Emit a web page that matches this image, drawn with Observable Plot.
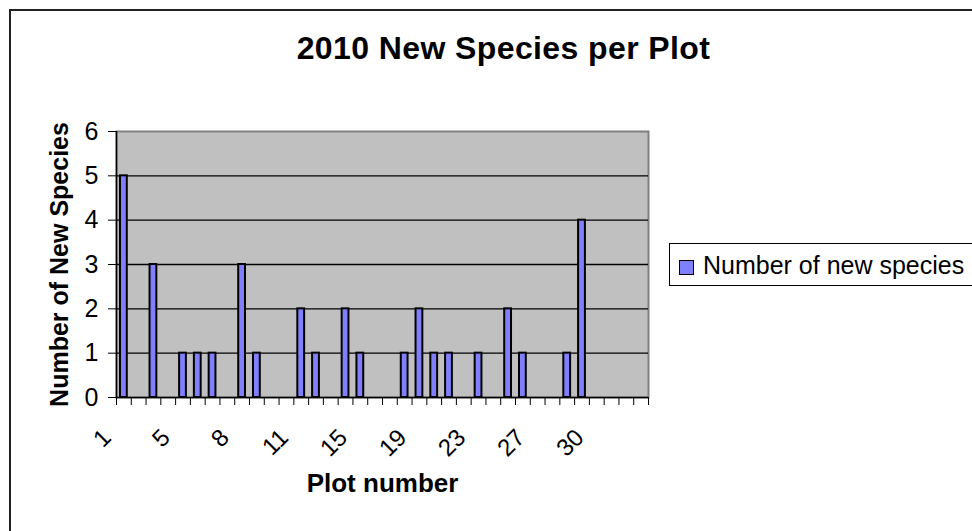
<!DOCTYPE html>
<html>
<head>
<meta charset="utf-8">
<script src="https://cdn.jsdelivr.net/npm/d3@7"></script>
<script src="https://cdn.jsdelivr.net/npm/@observablehq/plot@0.6"></script>
<style>
  html, body { margin: 0; padding: 0; background: white; }
  #wrap { position: relative; width: 972px; height: 531px; overflow: hidden; font-family: "Liberation Sans", Arial, sans-serif; }
  #chart { position: absolute; left: 0; top: 0; }
  #outer { position: absolute; left: 9px; top: 9px; width: 1100px; height: 700px; border: 2px solid #222; pointer-events: none; }
  #title { position: absolute; left: 0; width: 1007px; top: 32px; text-align: center; font-weight: bold; font-size: 32px; line-height: 32px; letter-spacing: 0.4px; color: #000; }
  #legend { position: absolute; left: 669px; top: 243px; width: 400px; height: 41px; border: 1px solid #000; background: white; }
  #legend .sw { position: absolute; left: 9px; top: 16px; width: 13px; height: 13px; background: #8080ff; border: 1px solid #000; }
  #legend .lab { position: absolute; left: 33px; top: 7px; font-size: 25px; line-height: 28px; color: #000; white-space: nowrap; }
</style>
</head>
<body>
<div id="wrap">
  <div id="chart"></div>
  <div id="outer"></div>
  <div id="title"></div>
  <div id="legend"><div class="sw"></div><div class="lab"></div></div>
</div>
<script>
// Category labels (plot identifiers), in chart order
const plotLabels = ["1","2","3","4","5","6","7","7a","8","9","10","10a","11","12","13","14",
  "15","16","17","18","19","20","21","22","23","24","25","26","27","28","29","29a","30","","",""];
// Number of new species per category (null = no value)
const newSpecies = [5,0,3,0,1,1,1,0,3,1,0,0,2,1,0,2,1,0,0,1,2,1,1,0,1,0,2,1,0,0,1,4,0,null,null,null];
const yTicks = [0,1,2,3,4,5,6];
const labelEvery = 4;
const titleText = "2010 New Species per Plot";
const xTitle = "Plot number";
const yTitle = "Number of New Species";
const seriesName = "Number of new species";

const data = plotLabels.map((label, i) => ({i, label, count: newSpecies[i]}));
const n = plotLabels.length;

const chart = Plot.plot({
  width: 972,
  height: 531,
  marginLeft: 116,
  marginRight: 324,
  marginTop: 131,
  marginBottom: 134,
  x: {domain: [0, n], axis: null},
  y: {domain: [0, 6], axis: null},
  style: {fontFamily: "'Liberation Sans', Arial, sans-serif", background: "transparent", color: "black"},
  marks: [
    Plot.frame({fill: "#c0c0c0", stroke: "#808080", strokeWidth: 2}),
    Plot.ruleY(yTicks.filter(v => v > 0 && v < 6), {stroke: "black", strokeWidth: 1.3}),
    Plot.rectY(data.filter(d => d.count > 0), {
      x1: d => d.i + 0.27, x2: d => d.i + 0.73, y: "count",
      fill: "#8080ff", stroke: "black", strokeWidth: 2
    }),
    Plot.ruleX([0], {stroke: "black", strokeWidth: 1.5}),
    Plot.ruleY([0], {stroke: "black", strokeWidth: 1.5}),
    Plot.axisY({ticks: yTicks, tickFormat: d3.format("d"), tickSize: 8, tickPadding: 10, fontSize: 25, label: null}),
    Plot.axisX({ticks: d3.range(n + 1), tickFormat: () => "", tickSize: 8, label: null}),
    Plot.text(data.filter(d => d.i % labelEvery === 0), {
      x: d => d.i + 0.5, y: 0, text: "label", rotate: -45, textAnchor: "end",
      dx: -17, dy: 36, fontSize: 24, fill: "black"
    }),
    Plot.text([yTitle], {frameAnchor: "left", textAnchor: "middle", rotate: -90, dx: -57, fontWeight: "bold", fontSize: 25, fill: "black", text: d => d}),
    Plot.text([xTitle], {frameAnchor: "bottom", textAnchor: "middle", dy: 94, fontWeight: "bold", fontSize: 26, fill: "black", text: d => d})
  ]
});
document.getElementById("chart").appendChild(chart);
document.getElementById("title").textContent = titleText;
document.querySelector("#legend .lab").textContent = seriesName;
</script>
</body>
</html>
